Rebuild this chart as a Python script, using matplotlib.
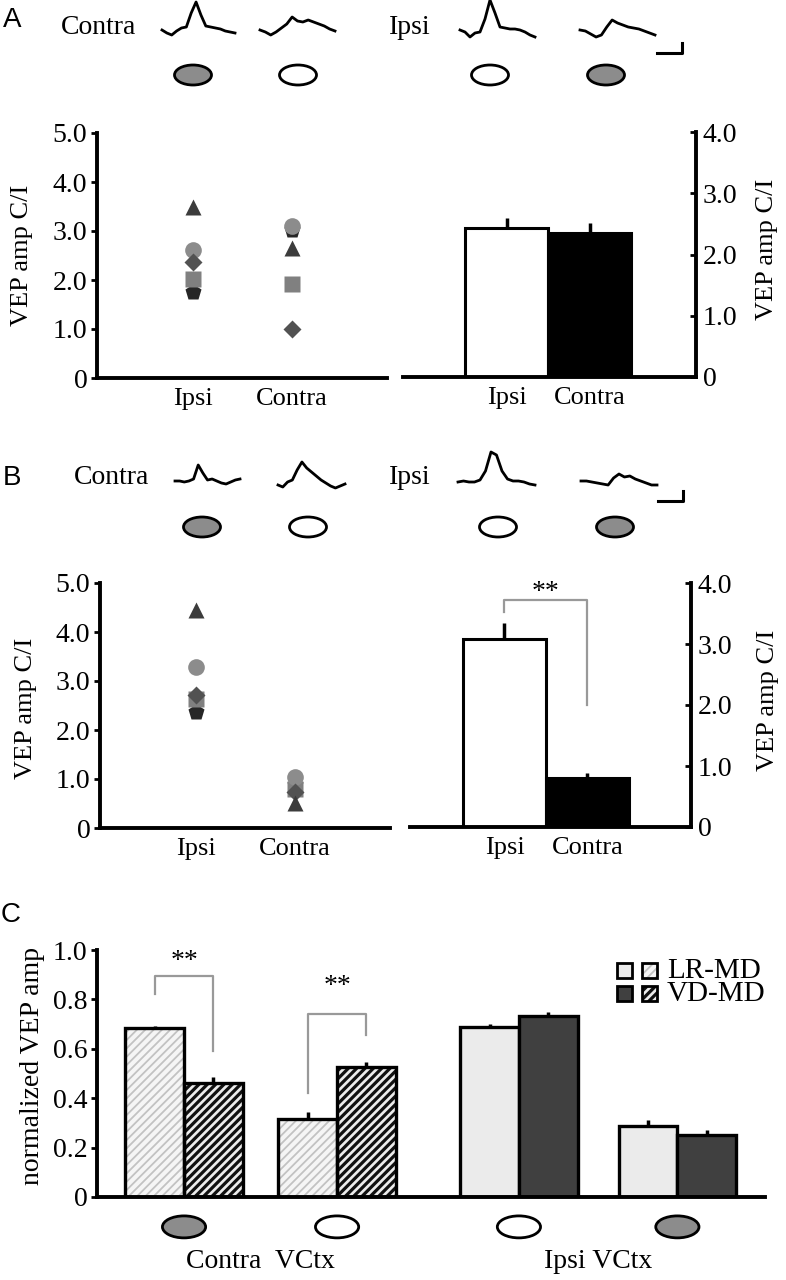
import numpy as np
import matplotlib
matplotlib.use('Agg')
import matplotlib.pyplot as plt
from matplotlib.patches import Ellipse, Rectangle
from matplotlib import transforms

plt.rcParams['font.family'] = 'Liberation Serif'
plt.rcParams['hatch.linewidth'] = 2.0

# ---- data ----
# one marker per animal (pentagon, square, circle, diamond, triangle)
animal_markers = ['p', 's', 'o', 'D', '^']
animal_colors = ['#262626', '#808080', '#8c8c8c', '#525252', '#3c3c3c']
animal_ms = [12, 11, 12, 9, 12]

a_ipsi = [1.76, 2.02, 2.61, 2.37, 3.49]
a_contra = [3.02, 1.92, 3.10, 1.00, 2.65]
b_ipsi = [2.37, 2.63, 3.29, 2.71, 4.45]
b_contra = [0.88, 0.80, 1.04, 0.73, 0.51]

bar_labels = ['Ipsi', 'Contra']
a_bar = [2.43, 2.35]
a_err = [0.17, 0.16]
b_bar = [3.08, 0.80]
b_err = [0.26, 0.08]

c_lr = [0.684, 0.315, 0.69, 0.288]
c_lr_err = [0.008, 0.03, 0.012, 0.022]
c_vd = [0.46, 0.527, 0.733, 0.25]
c_vd_err = [0.025, 0.02, 0.017, 0.022]
c_eye_fill = ['#8c8c8c', 'white', 'white', '#8c8c8c']

# example VEP traces (px amplitude above lowest point)
tr_a = [[5, 2, 0, 4, 7, 8, 22, 33, 20, 9, 8, 7, 6, 4, 3, 2],
        [5, 3, 0, 3, 7, 11, 18, 14, 13, 15, 13, 11, 9, 6, 4],
        [7, 5, 0, 4, 5, 18, 37, 24, 10, 9, 8, 8, 7, 5, 2, 0],
        [7, 6, 3, 0, 2, 10, 17, 14, 12, 10, 9, 8, 6, 4, 2]]
tr_b = [[4, 4, 3, 4, 6, 20, 12, 5, 6, 4, 2, 1, 3, 5, 6],
        [3, 1, 6, 8, 18, 26, 20, 16, 12, 8, 5, 2, 0, 2, 4],
        [3, 4, 3, 3, 5, 14, 33, 30, 14, 6, 4, 4, 3, 1, 0],
        [5, 5, 4, 3, 2, 1, 8, 12, 9, 10, 7, 5, 3, 1, 1]]
eye_fill = ['#8c8c8c', 'white', 'white', '#8c8c8c']

W, H = 786, 1280
SP = 2.8
LIGHT_H = ('#f5f5f5', '#c2c2c2', 1.3)
DARK_H = ('#ececec', '#111111', 2.3)


def box(l, t, r, b):
    return [l / W, 1 - b / H, (r - l) / W, (b - t) / H]


fig = plt.figure(figsize=(7.86, 12.8), dpi=100)
over = fig.add_axes([0, 0, 1, 1])
over.set_xlim(0, W)
over.set_ylim(H, 0)
over.axis('off')
over.set_zorder(10)


def header(letter, ly, ty, traces, tx0, tw, tbase, ex, ey, sbar):
    over.text(12, ly, letter, family='Liberation Sans', fontsize=20, ha='center', va='center')
    over.text(tx0[0] - 63, ty, 'Contra', fontsize=20, ha='center', va='center')
    over.text(410, ty, 'Ipsi', fontsize=20, ha='center', va='center')
    for tr, x0, w, yb in zip(traces, tx0, tw, tbase):
        xs = np.linspace(x0, x0 + w, len(tr))
        over.plot(xs, yb - np.array(tr), color='black', lw=2.0, solid_joinstyle='round')
    for x, f in zip(ex, eye_fill):
        over.add_patch(Ellipse((x, ey), 37, 20, facecolor=f, edgecolor='black', lw=2))
    sx, sy = sbar
    over.plot([sx - 25, sx, sx], [sy, sy, sy - 10], color='black', lw=2.2)


header('A', 20, 28, tr_a, [162, 260, 460, 580], [73, 75, 75, 75], [35, 35, 37, 37],
       [193, 298, 490, 606], 75, (682, 53))
header('B', 478, 478, tr_b, [175, 278, 458, 581], [65, 67, 77, 76], [485, 488, 485, 486],
       [202, 308, 498, 615], 527, (683, 501))
over.text(11, 915, 'C', family='Liberation Sans', fontsize=20, ha='center', va='center')


def style_left(ax):
    ax.spines['top'].set_visible(False)
    ax.spines['right'].set_visible(False)
    ax.spines['left'].set_linewidth(SP)
    ax.spines['bottom'].set_linewidth(SP)
    ax.tick_params(axis='y', direction='out', length=4, width=2, labelsize=20, pad=3)
    ax.tick_params(axis='x', length=0, labelsize=19, pad=7)


def scatter_panel(rect, ipsi, contra, lab_xy):
    ax = fig.add_axes(box(*rect))
    for i in range(len(animal_markers)):
        ax.plot([0, 1], [ipsi[i], contra[i]], ls='none', marker=animal_markers[i],
                color=animal_colors[i], ms=animal_ms[i], mec='none')
    ax.set_xlim(-0.97, 1.96)
    ax.set_ylim(0, 5)
    ax.set_yticks([0, 1, 2, 3, 4, 5])
    ax.set_yticklabels(['0', '1.0', '2.0', '3.0', '4.0', '5.0'])
    ax.set_xticks([0, 1])
    ax.set_xticklabels(bar_labels)
    style_left(ax)
    ax.set_ylabel('VEP amp C/I', fontsize=19)
    ax.yaxis.set_label_coords(*lab_xy)
    return ax


def bar_panel(rect, vals, errs, xlim, lab_xy):
    ax = fig.add_axes(box(*rect))
    ax.bar([0, 1], vals, width=1.0, color=['white', 'black'], edgecolor='black', lw=2.2, zorder=2)
    ax.errorbar([0, 1], vals, yerr=[[0, 0], errs], fmt='none', ecolor='black',
                elinewidth=2.5, capsize=0, zorder=1)
    ax.set_xlim(*xlim)
    ax.set_ylim(0, 4)
    ax.set_yticks([0, 1, 2, 3, 4])
    ax.set_yticklabels(['0', '1.0', '2.0', '3.0', '4.0'])
    ax.set_xticks([0, 1])
    ax.set_xticklabels(bar_labels)
    ax.spines['top'].set_visible(False)
    ax.spines['left'].set_visible(False)
    ax.spines['right'].set_linewidth(SP)
    ax.spines['bottom'].set_linewidth(SP)
    ax.yaxis.tick_right()
    ax.yaxis.set_label_position('right')
    ax.tick_params(axis='y', direction='in', length=4, width=2, labelsize=20, pad=5)
    ax.tick_params(axis='x', length=0, labelsize=19, pad=7)
    ax.set_ylabel('VEP amp C/I', fontsize=19)
    ax.yaxis.set_label_coords(*lab_xy)
    return ax


scatter_panel((97, 133, 387, 378), a_ipsi, a_contra, (-0.22, 0.5))
bar_panel((403, 132, 696, 377), a_bar, a_err, (-1.25, 2.28), (1.205, 0.52))
scatter_panel((100, 583, 390, 828), b_ipsi, b_contra, (-0.217, 0.49))
axb = bar_panel((410, 583, 691, 827), b_bar, b_err, (-1.14, 2.25), (1.235, 0.52))

# significance bracket, panel B
axb.plot([0, 0, 1, 1], [3.52, 3.72, 3.72, 2.0], color='#999999', lw=1.6, zorder=3)
axb.text(0.5, 3.74, '**', fontsize=20, ha='center', va='baseline')


def hatched(ax, x, y, w, h, style, **kw):
    face, hc, hlw = style
    with plt.rc_context({'hatch.linewidth': hlw}):
        r = Rectangle((x, y), w, h, facecolor=face, edgecolor=hc, lw=0, hatch='////', **kw)
    if hasattr(r, 'set_hatch_linewidth'):
        r.set_hatch_linewidth(hlw)
    ax.add_patch(r)
    return r


# ---- panel C ----
axc = fig.add_axes(box(97, 950, 765, 1197))
grp = np.array([1.45, 4.0, 7.03, 9.67])
bw = 0.98
x_lr = grp - bw / 2
x_vd = grp + bw / 2

for i in range(4):
    if i < 2:
        hatched(axc, x_lr[i] - bw / 2, 0, bw, c_lr[i], LIGHT_H, zorder=2)
        hatched(axc, x_vd[i] - bw / 2, 0, bw, c_vd[i], DARK_H, zorder=2)
        axc.bar([x_lr[i], x_vd[i]], [c_lr[i], c_vd[i]], width=bw, color='none',
                edgecolor='black', lw=2.4, zorder=3)
    else:
        axc.bar(x_lr[i], c_lr[i], width=bw, color='#ebebeb', edgecolor='black', lw=2.4, zorder=2)
        axc.bar(x_vd[i], c_vd[i], width=bw, color='#404040', edgecolor='black', lw=2.4, zorder=2)

axc.errorbar(x_lr, c_lr, yerr=[np.zeros(4), c_lr_err], fmt='none', ecolor='black',
             elinewidth=2.5, capsize=0, zorder=1)
axc.errorbar(x_vd, c_vd, yerr=[np.zeros(4), c_vd_err], fmt='none', ecolor='black',
             elinewidth=2.5, capsize=0, zorder=1)

# brackets
br_top = [0.895, 0.74]
br_left = [0.82, 0.42]
br_right = [0.59, 0.655]
star_y = [0.927, 0.826]
for i in range(2):
    axc.plot([x_lr[i], x_lr[i], x_vd[i], x_vd[i]], [br_left[i], br_top[i], br_top[i], br_right[i]],
             color='#999999', lw=1.6, zorder=4)
    axc.text(grp[i], star_y[i], '**', fontsize=20, ha='center', va='baseline')

axc.set_xlim(0, 11.13)
axc.set_ylim(0, 1.0)
axc.set_yticks([0, 0.2, 0.4, 0.6, 0.8, 1.0])
axc.set_yticklabels(['0', '0.2', '0.4', '0.6', '0.8', '1.0'])
axc.set_xticks([])
style_left(axc)
axc.set_ylabel('normalized VEP amp', fontsize=20)
axc.yaxis.set_label_coords(-0.078, 0.53)

# eye icons and group labels under the axis
tr = transforms.blended_transform_factory(axc.transData, axc.transAxes)
for x, f in zip(grp, c_eye_fill):
    axc.add_patch(Ellipse((x, -0.121), 0.72, 0.089, transform=tr, facecolor=f,
                          edgecolor='black', lw=2, clip_on=False))
axc.text((grp[0] + grp[1]) / 2, -0.263, 'Contra  VCtx', transform=tr, fontsize=20,
         ha='center', va='center')
axc.text((grp[2] + grp[3]) / 2, -0.263, 'Ipsi VCtx', transform=tr, fontsize=20,
         ha='center', va='center')

# legend
leg = [(963, '#ebebeb', LIGHT_H, 'LR-MD'),
       (986, '#404040', DARK_H, 'VD-MD')]
for y, solid, style, lab in leg:
    over.add_patch(Rectangle((617, y), 15, 15, facecolor=solid, edgecolor='black', lw=2))
    hatched(over, 642, y, 15, 15, style)
    over.add_patch(Rectangle((642, y), 15, 15, facecolor='none', edgecolor='black', lw=2))
    over.text(667, y + 8, lab, fontsize=21, ha='left', va='center')

fig.savefig('out.png', dpi=100)
